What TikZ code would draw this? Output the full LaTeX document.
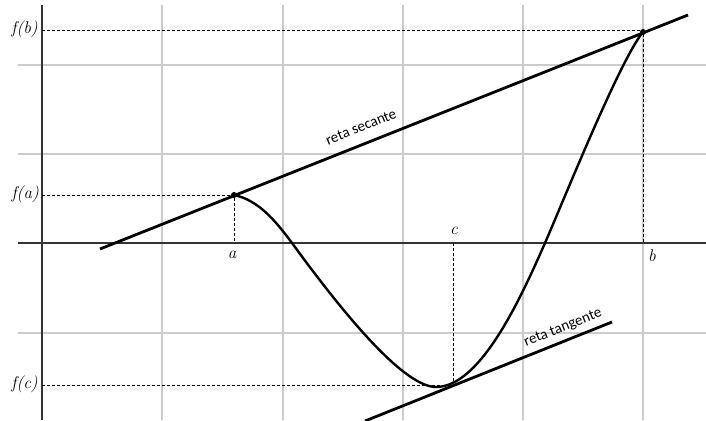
\documentclass[tikz,border=0pt]{standalone}
\usepackage{fontspec}
\newfontfamily\carlito{Carlito}
\begin{document}
\begin{tikzpicture}[x=1pt,y=-1pt,
  gridline/.style={draw=black!20, line width=1.6pt},
  axisline/.style={draw=black!80, line width=1.6pt},
  guide/.style={draw=black, line width=0.8pt, dash pattern=on 3pt off 2pt},
  thickline/.style={draw=black, line width=2.8pt},
  curveline/.style={draw=black, line width=2.4pt},
  lab/.style={font=\itshape\fontsize{17}{20}\selectfont, inner sep=0pt},
  linelab/.style={font=\carlito\fontsize{15}{18}\selectfont, inner sep=0pt, rotate=21.7},
  dot/.style={circle, fill=black, inner sep=0pt, minimum size=6pt}
]
\useasboundingbox (0,0) rectangle (706,420);
% grid
\foreach \yy in {65,154,333} \draw[gridline] (18,\yy) -- (706,\yy);
\foreach \xx in {162,283,403,523,643} \draw[gridline] (\xx,5) -- (\xx,420);
% axes
\draw[axisline] (18,243) -- (706,243);
\draw[axisline] (42,5) -- (42,420);
% key points
\coordinate (A) at (234,195);
\coordinate (B) at (643,32);
\coordinate (C) at (453,385);
\coordinate (Ax) at (234,243);
\coordinate (Bx) at (643,243);
\coordinate (Cx) at (453,243);
\coordinate (Ay) at (42,195);
\coordinate (By) at (42,30);
\coordinate (Cy) at (42,385);
% guides
\draw[guide] (Ay) -- (A) -- (Ax);
\draw[guide] (By) -- (643,30) -- (Bx);
\draw[guide] (Cy) -- (C) -- (Cx);
% secant and tangent
\coordinate (S1) at (100,249);
\coordinate (S2) at (688,15);
\coordinate (T1) at (365,421);
\coordinate (T2) at (612,322);
\draw[thickline] (S1) -- (S2);
\draw[thickline] (T1) -- (T2);
% curve
\draw[curveline] (A) .. controls (258,200) and (275,220) .. (292,243)
  .. controls (330,295) and (400,387) .. (436,387)
  .. controls (480,387) and (520,300) .. (545,243)
  .. controls (565,197) and (620,60) .. (B);
\node[dot] (Ad) at (A) {};
\node[dot] (Bd) at (B) {};
% labels
\node[lab, anchor=east] (fb) at (38,29) {f(b)};
\node[lab, anchor=east] (fa) at (39,194) {f(a)};
\node[lab, anchor=east] (fc) at (38,384) {f(c)};
\node[lab] (la) at (232,255) {a};
\node[lab] (lc) at (454,231) {c};
\node[lab] (lb) at (652,256) {b};
\node[linelab] (sec) at (361,127) {reta secante};
\node[linelab] (tan) at (563,328) {reta tangente};
\end{tikzpicture}
\end{document}
